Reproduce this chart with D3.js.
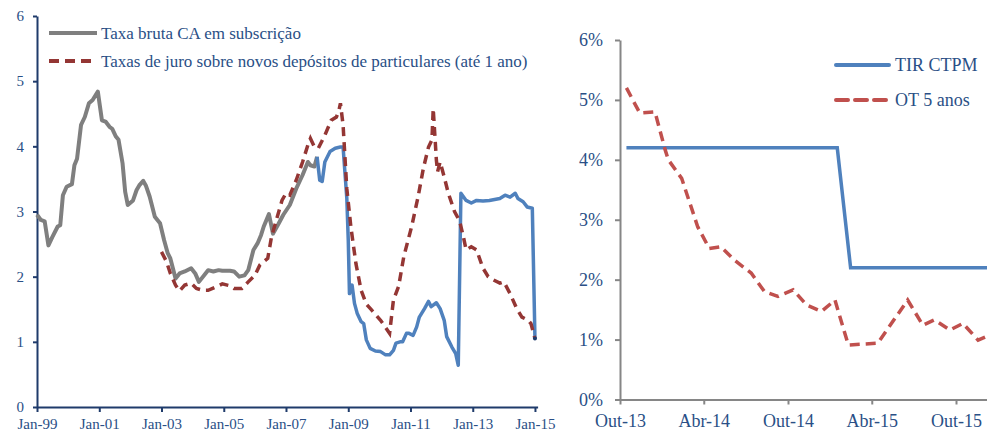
<!DOCTYPE html>
<html>
<head>
<meta charset="utf-8">
<script src="https://cdn.jsdelivr.net/npm/d3@7"></script>
<style>
  body { margin: 0; background: #fff; }
  svg { display: block; }
  svg text { font-family: "Liberation Serif", "DejaVu Serif", serif; }
</style>
</head>
<body>
<div id="chart"></div>
<script>
// left panel: tick labels
const leftTickDates = ["1999-01-01", "2001-01-01", "2003-01-01", "2005-01-01", "2007-01-01", "2009-01-01", "2011-01-01", "2013-01-01", "2015-01-01"];
const leftTickLabels = ["Jan-99", "Jan-01", "Jan-03", "Jan-05", "Jan-07", "Jan-09", "Jan-11", "Jan-13", "Jan-15"];
const leftYTicks = [0, 1, 2, 3, 4, 5, 6];

// Taxa bruta CA em subscrição (grey part)
const grossDates = ["1999-01-01", "1999-02-15", "1999-04-01", "1999-05-15", "1999-07-01", "1999-09-01", "1999-10-01", "1999-11-01", "1999-12-15",
  "2000-02-15", "2000-03-15", "2000-04-15", "2000-06-01", "2000-07-15", "2000-09-01", "2000-10-15", "2000-12-15",
  "2001-02-01", "2001-03-15", "2001-05-01", "2001-06-01", "2001-07-15", "2001-08-15", "2001-10-01", "2001-11-01", "2001-12-01",
  "2002-02-01", "2002-03-15", "2002-04-15", "2002-06-01", "2002-07-01", "2002-08-15", "2002-10-15", "2002-12-15",
  "2003-02-01", "2003-03-15", "2003-04-15", "2003-06-15", "2003-08-01", "2003-10-01", "2003-12-15",
  "2004-02-01", "2004-03-15", "2004-07-01", "2004-09-01", "2004-11-01", "2004-12-15",
  "2005-03-15", "2005-05-01", "2005-07-01", "2005-09-01", "2005-10-15", "2005-12-15",
  "2006-02-01", "2006-03-15", "2006-04-15", "2006-06-15", "2006-08-01", "2006-10-01", "2006-12-01",
  "2007-02-15", "2007-05-01", "2007-07-15", "2007-09-15", "2007-10-15", "2007-12-01", "2008-01-01"];
const grossValues = [2.95, 2.87, 2.85, 2.48, 2.61, 2.77, 2.79, 3.25, 3.38,
  3.42, 3.71, 3.81, 4.33, 4.45, 4.66, 4.71, 4.84,
  4.40, 4.38, 4.30, 4.27, 4.15, 4.10, 3.74, 3.30, 3.10,
  3.17, 3.33, 3.40, 3.47, 3.40, 3.23, 2.92, 2.82,
  2.56, 2.36, 2.28, 1.97, 2.05, 2.08, 2.13,
  2.05, 1.92, 2.10, 2.08, 2.10, 2.09,
  2.09, 2.08, 2.00, 2.02, 2.10, 2.41,
  2.51, 2.64, 2.77, 2.96, 2.66, 2.80, 2.95,
  3.10, 3.35, 3.56, 3.76, 3.71, 3.69, 3.84];

// same series, blue part
const grossNewDates = ["2008-01-01", "2008-02-01", "2008-03-01", "2008-04-01", "2008-06-01", "2008-08-01", "2008-10-01", "2008-11-01", "2008-12-15",
  "2009-01-01", "2009-01-15", "2009-02-15", "2009-03-15", "2009-04-15", "2009-06-01", "2009-07-01", "2009-08-01", "2009-09-15", "2009-11-15",
  "2010-01-15", "2010-03-15", "2010-05-01", "2010-06-15", "2010-07-15", "2010-09-01", "2010-10-01", "2010-11-15", "2010-12-15",
  "2011-02-01", "2011-03-15", "2011-04-15", "2011-06-15", "2011-08-01", "2011-09-01", "2011-11-01", "2011-12-15",
  "2012-02-01", "2012-03-01", "2012-05-01", "2012-06-15", "2012-07-15", "2012-08-15", "2012-10-15", "2012-12-15",
  "2013-02-15", "2013-05-01", "2013-07-15", "2013-11-15", "2014-01-15", "2014-03-15", "2014-05-15", "2014-06-15",
  "2014-08-15", "2014-10-01", "2014-12-01", "2015-01-01"];
const grossNewValues = [3.84, 3.48, 3.46, 3.76, 3.92, 3.97, 3.99, 3.99, 3.20,
  2.56, 1.74, 1.87, 1.59, 1.44, 1.31, 1.28, 1.03, 0.90, 0.86,
  0.85, 0.80, 0.80, 0.87, 0.98, 1.00, 1.00, 1.13, 1.13,
  1.10, 1.23, 1.38, 1.51, 1.62, 1.54, 1.60, 1.51,
  1.33, 1.08, 0.92, 0.82, 0.64, 3.28, 3.17, 3.13,
  3.17, 3.16, 3.17, 3.20, 3.25, 3.22, 3.28, 3.20,
  3.15, 3.07, 3.05, 1.05];

// Taxas de juro sobre novos depósitos de particulares (até 1 ano)
const depositDates = ["2003-01-01", "2003-03-01", "2003-04-15", "2003-06-15", "2003-08-01", "2003-10-01", "2003-12-15",
  "2004-02-15", "2004-05-01", "2004-07-01", "2004-10-15", "2004-12-15",
  "2005-03-15", "2005-05-01", "2005-08-01", "2005-10-15",
  "2006-01-01", "2006-03-01", "2006-04-15", "2006-06-01", "2006-07-15", "2006-09-15", "2006-11-15",
  "2007-01-01", "2007-02-15", "2007-05-01", "2007-07-15", "2007-09-15", "2007-10-15", "2007-12-01",
  "2008-01-15", "2008-04-01", "2008-06-15", "2008-08-15", "2008-09-15", "2008-10-01", "2008-11-01", "2008-12-15",
  "2009-02-01", "2009-04-01", "2009-06-01", "2009-08-01", "2009-10-01",
  "2010-01-15", "2010-05-01", "2010-06-15", "2010-08-15", "2010-10-15",
  "2011-01-15", "2011-04-01", "2011-06-01", "2011-08-01", "2011-09-10", "2011-09-25", "2011-11-01", "2011-11-15", "2011-12-15",
  "2012-02-01", "2012-03-20", "2012-06-01", "2012-08-01", "2012-09-15", "2012-10-15", "2012-12-15",
  "2013-02-15", "2013-05-01", "2013-07-01", "2013-09-01", "2013-11-15",
  "2014-01-01", "2014-03-15", "2014-06-01", "2014-08-01", "2014-10-15", "2014-11-15", "2015-01-01"];
const depositValues = [2.38, 2.23, 2.05, 1.87, 1.78, 1.87, 1.90,
  1.82, 1.79, 1.79, 1.85, 1.89,
  1.86, 1.82, 1.82, 1.92,
  2.02, 2.18, 2.23, 2.28, 2.61, 2.89, 3.17,
  3.28, 3.25, 3.48, 3.76, 4.02, 4.12, 3.99,
  3.97, 4.17, 4.40, 4.45, 4.56, 4.66, 4.33, 3.35,
  2.76, 2.20, 1.79, 1.58, 1.49,
  1.33, 1.13, 1.64, 1.85, 2.31,
  2.77, 3.23, 3.66, 3.99, 4.10, 4.58, 3.79, 3.61, 3.76,
  3.53, 3.28, 3.00, 2.85, 2.60, 2.41, 2.46,
  2.41, 2.13, 2.00, 1.95, 1.90,
  1.92, 1.74, 1.51, 1.38, 1.33, 1.28, 1.05];

// right panel
const rightTickDates = ["2013-10-01", "2014-04-01", "2014-10-01", "2015-04-01", "2015-10-01"];
const rightTickLabels = ["Out-13", "Abr-14", "Out-14", "Abr-15", "Out-15"];
const rightYTicks = [0, 1, 2, 3, 4, 5, 6];

const tirDates = ["2013-10-15", "2015-01-16", "2015-02-14", "2016-01-15"];
const tirValues = [4.2, 4.2, 2.2, 2.2];

const otDates = ["2013-10-15", "2013-11-13", "2013-12-16", "2014-01-07", "2014-01-14", "2014-02-12", "2014-03-19", "2014-04-13",
  "2014-05-08", "2014-06-06", "2014-07-13", "2014-08-11", "2014-09-09", "2014-10-12", "2014-11-10", "2014-12-13",
  "2015-01-11", "2015-02-09", "2015-04-14", "2015-06-18", "2015-07-21", "2015-08-15", "2015-09-18", "2015-10-16",
  "2015-11-18", "2015-12-15"];
const otValues = [5.20, 4.78, 4.80, 4.17, 4.00, 3.69, 2.88, 2.52,
  2.55, 2.33, 2.11, 1.80, 1.72, 1.83, 1.58, 1.47,
  1.66, 0.91, 0.94, 1.66, 1.24, 1.33, 1.16, 1.27,
  0.99, 1.08];

const parse = d3.timeParse("%Y-%m-%d");
const zip = (dates, values) => dates.map((d, i) => ({ date: parse(d), value: values[i] }));

const fontFamily = "'Liberation Serif', 'DejaVu Serif', serif";
const textColor = "#2A4F86";
const width = 987;
const height = 432;

const svg = d3
  .select("#chart")
  .append("svg")
  .attr("width", width)
  .attr("height", height);

// ---------- left chart ----------
const x1 = d3
  .scaleTime()
  .domain([parse("1999-01-01"), parse("2015-02-01")])
  .range([37, 537.6]);

const y1 = d3.scaleLinear().domain([0, 6]).range([407, 16]);

const line1 = d3
  .line()
  .x((d) => x1(d.date))
  .y((d) => y1(d.value));

const left = svg.append("g");

const xAxis1 = left
  .append("g")
  .attr("transform", `translate(0, ${y1(0)})`)
  .call(
    d3
      .axisBottom(x1)
      .tickValues(leftTickDates.map(parse))
      .tickFormat((d, i) => leftTickLabels[i])
      .tickSize(5)
      .tickSizeOuter(0)
      .tickPadding(6)
  );

const yAxis1 = left
  .append("g")
  .attr("transform", `translate(${x1.range()[0]}, 0)`)
  .call(d3.axisLeft(y1).tickValues(leftYTicks).tickFormat(d3.format("d")).tickSize(4).tickSizeOuter(0).tickPadding(9));

[xAxis1, yAxis1].forEach((ax) => {
  ax.attr("font-family", null).attr("font-size", null);
  ax.selectAll("path, line").attr("stroke", "#1F3B6B").attr("stroke-width", 2);
  ax.selectAll("text")
    .style("font-family", fontFamily)
    .style("font-size", "15px")
    .attr("fill", textColor);
});

left
  .append("path")
  .datum(zip(grossDates, grossValues))
  .attr("fill", "none")
  .attr("stroke", "#7F7F7F")
  .attr("stroke-width", 4)
  .attr("stroke-linejoin", "round")
  .attr("d", line1);

left
  .append("path")
  .datum(zip(grossNewDates, grossNewValues))
  .attr("fill", "none")
  .attr("stroke", "#4F81BD")
  .attr("stroke-width", 3.5)
  .attr("stroke-linejoin", "round")
  .attr("d", line1);

left
  .append("path")
  .datum(zip(depositDates, depositValues))
  .attr("fill", "none")
  .attr("stroke", "#943634")
  .attr("stroke-width", 3.5)
  .attr("stroke-dasharray", "9,6")
  .attr("d", line1);

const lastBlue = zip(grossNewDates, grossNewValues).slice(-1)[0];
left
  .append("circle")
  .attr("cx", x1(lastBlue.date))
  .attr("cy", y1(lastBlue.value))
  .attr("r", 2)
  .attr("fill", "#1F3B6B");

// legend
const leftLegend = [
  { label: "Taxa bruta CA em subscrição", color: "#7F7F7F", dash: null, w: 4 },
  { label: "Taxas de juro sobre novos depósitos de particulares (até 1 ano)", color: "#943634", dash: "10,6", w: 4 }
];

leftLegend.forEach((item, i) => {
  const g = left.append("g").attr("transform", `translate(49, ${33 + i * 28})`);
  g.append("line")
    .attr("x1", 0)
    .attr("x2", 48)
    .attr("stroke", item.color)
    .attr("stroke-width", item.w)
    .attr("stroke-dasharray", item.dash);
  g.append("text")
    .attr("x", 52)
    .attr("dy", "0.35em")
    .style("font-size", "17px")
    .attr("fill", textColor)
    .text(item.label);
});

// ---------- right chart ----------
const outStart = parse("2013-10-01");
const outEnd = parse("2015-10-01");
const rightEnd = parse("2016-01-01");
const pxPerMs = (956 - 620) / (outEnd - outStart);

const x2 = d3
  .scaleTime()
  .domain([outStart, rightEnd])
  .range([620, 620 + (rightEnd - outStart) * pxPerMs]);

const y2 = d3.scaleLinear().domain([0, 6]).range([399.5, 40]);

const line2 = d3
  .line()
  .x((d) => x2(d.date))
  .y((d) => y2(d.value));

const right = svg.append("g");

const xAxis2 = right
  .append("g")
  .attr("transform", `translate(0, ${y2(0)})`)
  .call(
    d3
      .axisBottom(x2)
      .tickValues(rightTickDates.map(parse))
      .tickFormat((d, i) => rightTickLabels[i])
      .tickSize(5)
      .tickSizeOuter(0)
      .tickPadding(10)
  );

const yAxis2 = right
  .append("g")
  .attr("transform", `translate(620, 0)`)
  .call(d3.axisLeft(y2).tickValues(rightYTicks).tickFormat((d) => `${d}%`).tickSize(5).tickSizeOuter(0).tickPadding(12));

[xAxis2, yAxis2].forEach((ax) => {
  ax.attr("font-family", null).attr("font-size", null);
  ax.selectAll("path, line").attr("stroke", "#868686").attr("stroke-width", 2);
  ax.selectAll("text")
    .style("font-family", fontFamily)
    .style("font-size", "18px")
    .attr("fill", textColor);
});

right
  .append("path")
  .datum(zip(tirDates, tirValues))
  .attr("fill", "none")
  .attr("stroke", "#4F81BD")
  .attr("stroke-width", 3.5)
  .attr("d", line2);

right
  .append("path")
  .datum(zip(otDates, otValues))
  .attr("fill", "none")
  .attr("stroke", "#C0504D")
  .attr("stroke-width", 3.5)
  .attr("stroke-dasharray", "10,6")
  .attr("d", line2);

const rightLegend = [
  { label: "TIR CTPM", color: "#4F81BD", dash: null },
  { label: "OT 5 anos", color: "#C0504D", dash: "12,7" }
];

rightLegend.forEach((item, i) => {
  const g = right.append("g").attr("transform", `translate(836, ${65 + i * 35})`);
  g.append("line")
    .attr("x1", 0)
    .attr("x2", 53)
    .attr("stroke", item.color)
    .attr("stroke-width", 4)
    .attr("stroke-linecap", "round")
    .attr("stroke-dasharray", item.dash);
  g.append("text")
    .attr("x", 59)
    .attr("dy", "0.35em")
    .style("font-size", "18px")
    .attr("fill", textColor)
    .text(item.label);
});
</script>
</body>
</html>
